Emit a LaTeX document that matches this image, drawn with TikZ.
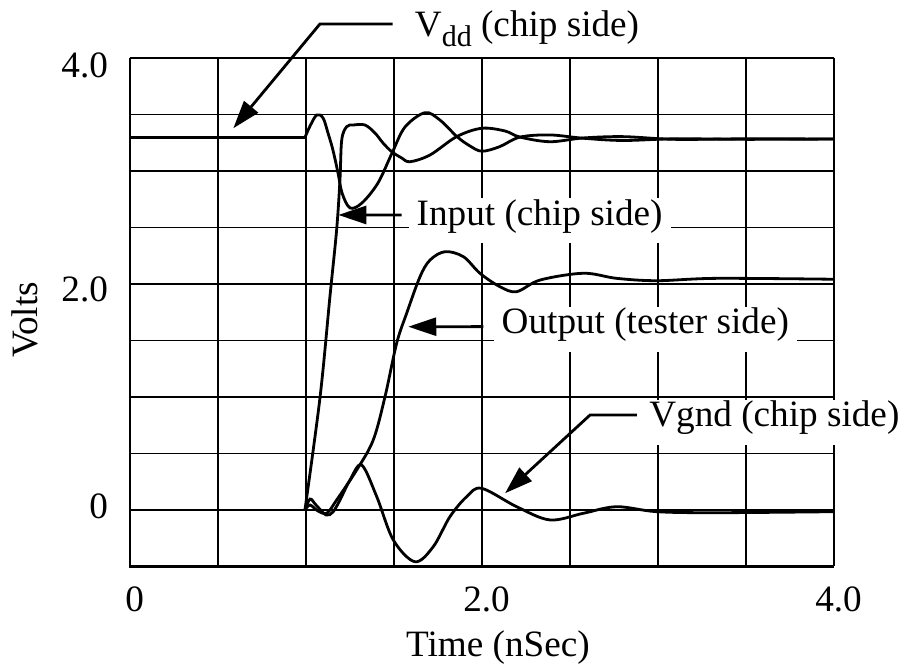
\documentclass[tikz,border=0pt]{standalone}
\usepackage{fontspec}
\setmainfont{Liberation Serif}
\usetikzlibrary{arrows.meta}
\usetikzlibrary{positioning}

\begin{document}
\begin{tikzpicture}[x=88pt,y=56.5pt,
	every node/.style={font=\fontsize{18.6}{22}\selectfont,inner sep=0pt},
	grd/.style={line width=0.9pt},
	axis/.style={line width=1.4pt},
	wave/.style={line width=1.4pt,smooth,tension=0.55},
	lead/.style={line width=1.4pt,-{Triangle[length=14pt,width=9pt]}},
	tag/.style={fill=white,inner xsep=4pt,text height=13.5pt,text depth=9pt,anchor=text}]

	\useasboundingbox (-0.7386,-1.4071) rectangle (4.3807,4.5133);

	\draw[grd] (0,-0.5) grid[xstep=0.5,ystep=0.5] (4,4);
	\draw[axis] (0,4) -- (0,-0.5) -- (4,-0.5);

	\node [anchor=base east] (Y4) at (-0.123,3.823) {4.0};
	\node [anchor=base east] (Y2) at (-0.123,1.841) {2.0};
	\node [anchor=base east] (Y0) at (-0.123,-0.071) {0};
	\node [anchor=base,rotate=90] (YT) at (-0.526,1.681) {Volts};
	\node [anchor=base] (X0) at (0.026,-0.9) {0};
	\node [anchor=base] (X2) at (2.026,-0.9) {2.0};
	\node [anchor=base] (X4) at (4.026,-0.9) {4.0};
	\node [anchor=base] (XT) at (2.091,-1.298) {Time (nSec)};

	\node [tag] (VD) at (1.619,4.186) {V\raisebox{-4.8pt}{\fontsize{15}{15}\selectfont dd} (chip side)};
	\node [tag] (IN) at (1.629,2.522) {Input (chip side)};
	\node [tag] (OU) at (2.112,1.558) {Output (tester side)};
	\node [tag] (VG) at (2.951,0.735) {Vgnd (chip side)};

	\draw[wave] (0,3.296) -- (0.994,3.296);
	\draw[wave] plot coordinates {(0.994,3.296) (1.023,3.398) (1.061,3.496) (1.097,3.469)
		(1.125,3.336) (1.153,3.186) (1.182,2.982) (1.205,2.805) (1.25,2.673) (1.318,2.717)
		(1.409,2.894) (1.489,3.159) (1.5625,3.389) (1.676,3.516) (1.761,3.451) (1.858,3.304)
		(1.932,3.221) (2.0,3.175) (2.1,3.215) (2.216,3.30) (2.386,3.319) (2.574,3.29)
		(2.8,3.27) (3.1,3.285) (3.5,3.28) (4.0,3.283)};

	\draw[wave] (0,0) -- (0.994,0);
	\draw[wave] plot coordinates {(0.994,0) (1.08,1.0) (1.136,1.888) (1.174,2.478)
		(1.193,2.92) (1.203,3.274) (1.231,3.392) (1.269,3.407) (1.335,3.407) (1.392,3.336)
		(1.4375,3.248) (1.487,3.171) (1.544,3.115) (1.591,3.082) (1.705,3.142) (1.856,3.304)
		(1.998,3.378) (2.131,3.354) (2.216,3.30) (2.386,3.259) (2.574,3.292) (2.8,3.304)
		(3.1,3.28) (3.5,3.285) (4.0,3.283)};

	\draw[wave] plot coordinates {(0.994,0) (1.023,0.044) (1.068,-0.009) (1.119,-0.027)
		(1.174,0.088) (1.288,0.354) (1.382,0.619) (1.449,1.003) (1.515,1.475) (1.572,1.741)
		(1.648,2.065) (1.705,2.212) (1.790,2.286) (1.894,2.242) (1.989,2.094)
		(2.102,1.976) (2.197,1.932) (2.330,2.035) (2.576,2.095) (2.765,2.05) (2.993,2.029)
		(3.333,2.05) (4.0,2.042)};

	\draw[wave] plot coordinates {(0.994,0) (1.023,0.097) (1.057,0.044) (1.114,-0.044)
		(1.153,-0.018) (1.193,0.088) (1.25,0.265) (1.316,0.398) (1.402,0.118) (1.496,-0.265)
		(1.619,-0.458) (1.723,-0.325) (1.818,-0.059) (1.913,0.118) (1.998,0.192) (2.197,0.029)
		(2.386,-0.088) (2.576,-0.029) (2.765,0.029) (2.993,-0.015) (3.333,-0.024) (4.0,-0.015)};

	\coordinate (VD1) at (0.587,3.378);
	\coordinate (IN1) at (1.1835,2.611);
	\coordinate (OU1) at (1.581,1.622);
	\coordinate (VG1) at (2.131,0.148);

	\draw[lead] ([xshift=-11.15pt,yshift=6.5pt]VD.text) -- ++(-0.413,0) -- (VD1);
	\draw[lead] ([xshift=-7.5pt,yshift=5pt]IN.text) -- (IN1);
	\draw[lead] ([xshift=-9.2pt,yshift=3.65pt]OU.text) -- (OU1);
	\draw[lead] ([xshift=-6.3pt,yshift=6pt]VG.text) -- ++(-0.265,0) -- (VG1);
\end{tikzpicture}
\end{document}
